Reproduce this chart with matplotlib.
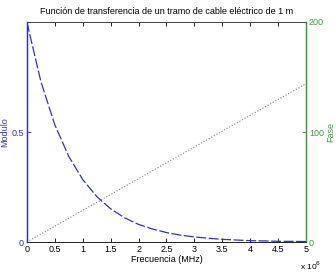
import matplotlib
matplotlib.use('Agg')
import matplotlib.pyplot as plt

plt.rcParams['font.family'] = ['Liberation Sans', 'DejaVu Sans']

# frecuencia en Hz (eje con factor x 10^6)
freq = [0, 0.25e6, 0.5e6, 0.75e6, 1.0e6, 1.25e6, 1.5e6, 1.75e6, 2.0e6, 2.25e6,
        2.5e6, 2.75e6, 3.0e6, 3.25e6, 3.5e6, 3.75e6, 4.0e6, 4.25e6, 4.5e6,
        4.75e6, 5.0e6]
modulo = [1.0, 0.73, 0.533, 0.389, 0.284, 0.207, 0.151, 0.11, 0.08, 0.059,
          0.043, 0.031, 0.023, 0.017, 0.012, 0.009, 0.006, 0.005, 0.003,
          0.003, 0.002]
fase_x = [0, 5.0e6]
fase = [0, 144]

xticks = [0, 0.5e6, 1e6, 1.5e6, 2e6, 2.5e6, 3e6, 3.5e6, 4e6, 4.5e6, 5e6]
xlabels = ['0', '0.5', '1', '1.5', '2', '2.5', '3', '3.5', '4', '4.5', '5']

blue = '#3030c8'
green = '#3a9a3a'
fs = 6.5

fig = plt.figure(figsize=(3.36, 2.75), dpi=100)
ax = fig.add_axes([0.080, 0.12, 0.831, 0.80])
ax2 = ax.twinx()

ax.plot(freq, modulo, '--', color=blue, lw=0.9, dashes=(8, 2))
ax2.plot(fase_x, fase, ':', color='#808080', lw=0.8)

ax.set_xlim(0, 5e6)
ax.set_ylim(0, 1)
ax2.set_ylim(0, 200)

ax.set_xticks(xticks)
ax.set_xticklabels(xlabels, fontsize=fs)
ax.set_yticks([0, 0.5, 1])
ax.set_yticklabels(['0', '0.5', ''], fontsize=fs, color=blue)
ax2.set_yticks([0, 100, 200])
ax2.set_yticklabels(['0', '100', '200'], fontsize=fs, color=green)

ax.tick_params(axis='x', direction='in', length=3, width=0.6, top=True, pad=2)
ax.tick_params(axis='y', direction='in', length=3, width=0.6, colors=blue, pad=2)
ax2.tick_params(axis='y', direction='in', length=3, width=0.6, colors=green, pad=2)

for a in (ax, ax2):
    a.spines['top'].set_color('#444444')
    a.spines['bottom'].set_color('#222222')
    a.spines['top'].set_linewidth(0.6)
    a.spines['bottom'].set_linewidth(0.6)
ax.spines['left'].set_color(blue)
ax2.spines['left'].set_color(blue)
ax2.spines['right'].set_color(green)
ax.spines['right'].set_color(green)
ax2.spines['right'].set_linewidth(1.0)
ax2.spines['left'].set_linewidth(1.0)

ax.set_title('Función de transferencia de un tramo de cable eléctrico de 1 m',
             fontsize=fs, pad=6)
ax.set_xlabel('Frecuencia (MHz)', fontsize=fs, labelpad=1)
ax.set_ylabel('Modulo', fontsize=fs, color=blue)
ax.yaxis.set_label_coords(-0.062, 0.5)
ax2.set_ylabel('Fase', fontsize=fs, color=green)
ax2.yaxis.set_label_coords(1.072, 0.5)

fig.text(0.893, 0.02, r'x 10$^6$', fontsize=fs - 0.5)

fig.savefig('out.png', dpi=100)
